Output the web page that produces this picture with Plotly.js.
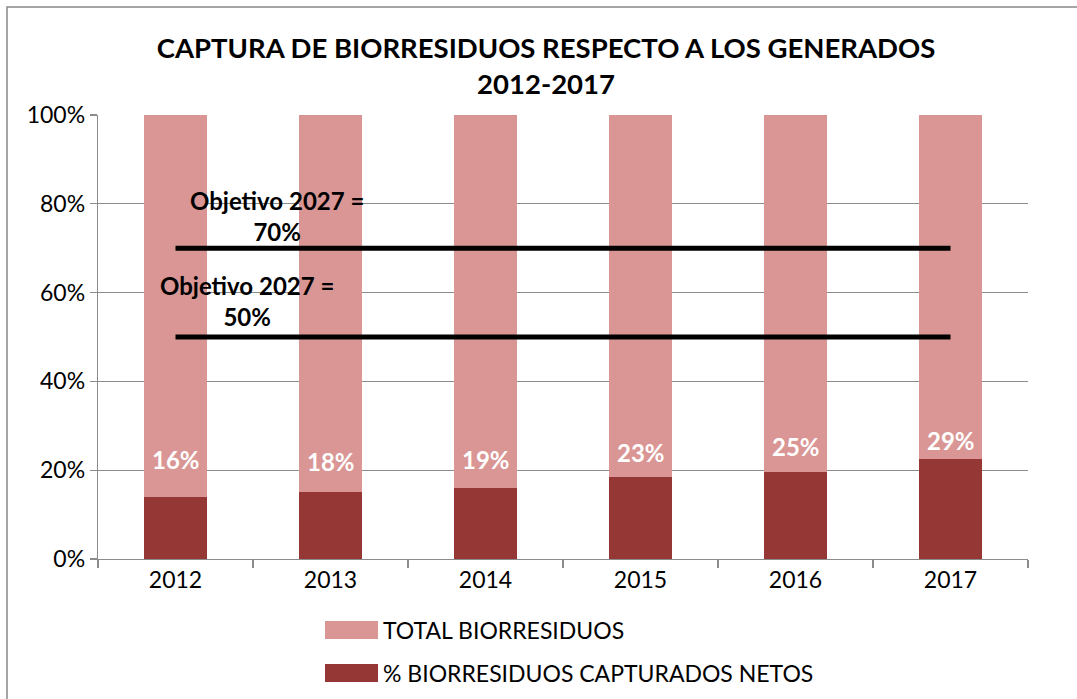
<!DOCTYPE html>
<html>
<head>
<meta charset="utf-8">
<script src="https://cdn.plot.ly/plotly-3.0.1.min.js"></script>
<style>html,body{margin:0;padding:0;background:#fff}#chart{width:1077px;height:699px}</style>
</head>
<body>
<div id="chart"></div>
<script>
// ---- data ----
const years = ['2012', '2013', '2014', '2015', '2016', '2017'];
const capturados = [14.0, 15.0, 16.0, 18.4, 19.5, 22.5];   // % BIORRESIDUOS CAPTURADOS NETOS (bar height)
const total = capturados.map(v => 100 - v);                 // TOTAL BIORRESIDUOS (rest up to 100%)
const labelText = ['16%', '18%', '19%', '23%', '25%', '29%'];
const objetivos = [70, 50];
const objetivoText = ['Objetivo 2027 =<br>70%', 'Objetivo 2027 =<br>50%'];
const seriesNames = ['TOTAL BIORRESIDUOS', '% BIORRESIDUOS CAPTURADOS NETOS'];

// ---- styles ----
const PINK = '#D99694', DARK = '#953735', GRID = '#8c8c8c';
const FONT = 'Lato, "Open Sans", sans-serif';

const traces = [
  {type: 'bar', x: years, y: capturados, name: seriesNames[1], marker: {color: DARK},
   width: 0.41, showlegend: false},
  {type: 'bar', x: years, y: total, name: seriesNames[0], marker: {color: PINK},
   width: 0.41, showlegend: false}
];
objetivos.forEach(v => {
  traces.push({type: 'scatter', mode: 'lines', x: [years[0], years[years.length - 1]], y: [v, v],
    line: {color: '#000', width: 5}, showlegend: false});
});

// label anchor heights (in % of axis) as placed in the original
const labelAt = [22.5, 21.9, 22.3, 23.9, 25.3, 26.8];
const annotations = years.map((yr, i) => ({
  x: i, y: labelAt[i], xref: 'x', yref: 'y', xanchor: 'center', yanchor: 'middle',
  text: '<b>' + labelText[i] + '</b>',
  showarrow: false, font: {family: FONT, size: 24, color: '#fff'}
}));
// objective texts (pixel centres in the original picture)
const objPos = [{x: 277, y: 216}, {x: 247, y: 301}];
objetivos.forEach((v, i) => {
  annotations.push({xref: 'paper', yref: 'paper', x: (objPos[i].x - 98) / 930, y: (559 - objPos[i].y) / 444,
    xanchor: 'center', yanchor: 'middle',
    text: '<b>' + objetivoText[i] + '</b>', showarrow: false, align: 'center',
    font: {family: FONT, size: 24, color: '#000'}});
});
// manual legend text
const legRows = [630, 673];
seriesNames.forEach((n, i) => {
  annotations.push({xref: 'paper', yref: 'paper', x: (381 - 98) / 930, y: (559 - legRows[i]) / 444,
    xanchor: 'left', yanchor: 'middle', text: n, showarrow: false,
    font: {family: FONT, size: 23, color: '#000'}});
});

const shapes = [
  // outer chart border (left and top visible)
  {type: 'rect', xref: 'paper', yref: 'paper', x0: (7 - 98) / 930, x1: 1.2, y0: -0.6, y1: (559 - 7) / 444,
   line: {color: '#888', width: 1.5}, fillcolor: 'rgba(0,0,0,0)', layer: 'below'}
];
[PINK, DARK].forEach((c, i) => {
  shapes.push({type: 'rect', xref: 'paper', yref: 'paper', x0: (325 - 98) / 930, x1: (378 - 98) / 930,
    y0: (559 - (legRows[i] - 9)) / 444, y1: (559 - (legRows[i] + 9)) / 444,
    line: {width: 0}, fillcolor: c});
});

const layout = {
  width: 1077, height: 699,
  margin: {l: 98, r: 49, t: 115, b: 140},
  paper_bgcolor: '#fff', plot_bgcolor: '#fff',
  barmode: 'stack', showlegend: false,
  font: {family: FONT, color: '#000'},
  title: {text: '<b>CAPTURA DE BIORRESIDUOS RESPECTO A LOS GENERADOS<br>2012-2017</b>',
    font: {family: FONT, size: 27.5, color: '#000'}, x: 0.507, xanchor: 'center',
    yref: 'container', y: 1 - 58 / 699, yanchor: 'top'},
  xaxis: {type: 'category', range: [-0.5, 5.5], autorange: false, showgrid: false, showline: true,
    linecolor: GRID, linewidth: 1.3,
    ticks: 'outside', tickson: 'boundaries', ticklen: 8, tickcolor: GRID, tickwidth: 1.3,
    tickangle: 0, tickfont: {family: FONT, size: 23, color: '#000'}, zeroline: false},
  yaxis: {range: [0, 100], autorange: false, dtick: 20, ticksuffix: '%', showgrid: true, gridcolor: GRID, gridwidth: 1.3,
    showline: true, linecolor: GRID, linewidth: 1.3, ticks: 'outside', ticklen: 7, tickcolor: GRID,
    tickwidth: 1.3, tickfont: {family: FONT, size: 23, color: '#000'}, zeroline: false},
  annotations: annotations,
  shapes: shapes
};

Plotly.newPlot('chart', traces, layout, {displayModeBar: false, staticPlot: true});
</script>
</body>
</html>
